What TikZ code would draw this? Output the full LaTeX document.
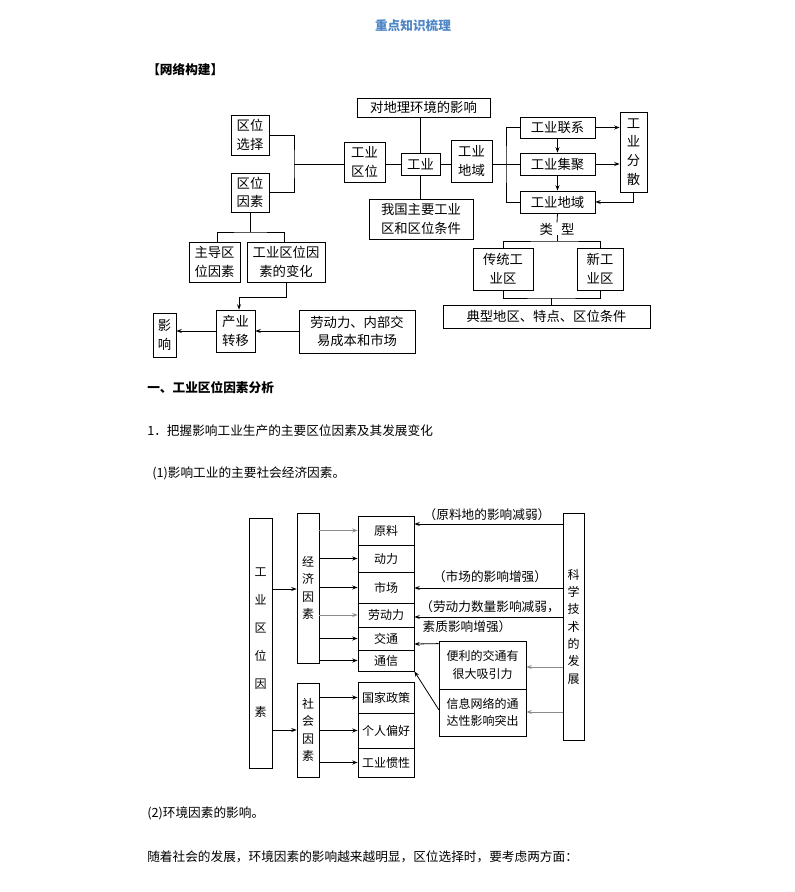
\documentclass[tikz,border=0pt]{standalone}
\usepackage{fontspec}
\setmainfont{Noto Sans CJK SC}
\usetikzlibrary{arrows.meta,calc}
\begin{document}
\begin{tikzpicture}[x=0.75pt,y=-0.75pt,
  box/.style={draw,line width=0.6pt,align=center,inner sep=0pt,font=\fontsize{10}{14}\selectfont},
  sbox/.style={box,font=\fontsize{9}{13}\selectfont},
  ln/.style={line width=0.6pt},
  arr/.style={line width=0.6pt,-{Stealth[length=4pt,width=3pt]}},
  garr/.style={line width=0.6pt,draw=black!45,-{Stealth[length=4pt,width=3pt]}},
  lab/.style={font=\fontsize{9.5}{12}\selectfont,inner sep=0pt},
  txt/.style={font=\fontsize{9.5}{12}\selectfont,inner sep=0pt,anchor=west}]
\newcommand\bx[7][box]{\node[#1,minimum width={(#5-#3)*0.75pt},minimum height={(#6-#4)*0.75pt}] (#2) at ({(#3+#5)/2},{(#4+#6)/2}) {#7};}
\useasboundingbox (0,0) rectangle (794,892);
% texts
\definecolor{ttl}{HTML}{4F86C6}
\node[font=\bfseries\fontsize{9.5}{12}\selectfont,text=ttl] (title) at (413,26) {重点知识梳理};
\node[txt,font=\bfseries\fontsize{9.5}{12}\selectfont] (t1) at (147,70) {【网络构建】};
\node[txt,font=\bfseries\fontsize{9.5}{12}\selectfont] (t2) at (147,388) {一、工业区位因素分析};
\node[txt] (t3) at (147,431) {1．把握影响工业生产的主要区位因素及其发展变化};
\node[txt] (t4) at (152,473) {(1)影响工业的主要社会经济因素。};
\node[txt] (t5) at (147,813) {(2)环境因素的影响。};
\node[txt] (t6) at (147,857) {随着社会的发展，环境因素的影响越来越明显，区位选择时，要考虑两方面：};
% top diagram
\bx{xz}{231}{115}{269}{155}{区位\\选择}
\bx{ys}{231}{173}{269}{212}{区位\\因素}
\bx{gyqw}{344}{142}{385}{182}{工业\\区位}
\bx{gy}{401}{153}{440}{175}{工业}
\bx{dl}{357}{98}{490}{117}{对地理环境的影响}
\bx{wg}{369}{199}{473}{239}{我国主要工业\\区和区位条件}
\bx{dy}{451}{140}{492}{182}{工业\\地域}
\bx{lx}{520}{117}{595}{138}{工业联系}
\bx{jj}{520}{153}{595}{175}{工业集聚}
\bx{dy2}{520}{191}{595}{213}{工业地域}
\bx{fs}{620}{112}{647}{192}{工\\业\\分\\散}
\node[lab,font=\fontsize{10}{12}\selectfont] (lx2) at (557,229) {类\hspace{0.6em}型};
\bx{ct}{473}{248}{533}{290}{传统工\\业区}
\bx{xg}{577}{248}{623}{290}{新工\\业区}
\bx{dx}{443}{305}{650}{328}{典型地区、特点、区位条件}
\bx{zd}{189}{242}{240}{282}{主导区\\位因素}
\bx{bh}{247}{242}{325}{282}{工业区位因\\素的变化}
\bx{zy}{216}{310}{255}{352}{产业\\转移}
\bx{ld}{299}{310}{415}{353}{劳动力、内部交\\易成本和市场}
\bx{yx}{153}{313}{176}{357}{影\\响}
\coordinate (j1) at (294,164);
\draw[ln] (xz.east) -| (j1) |- (ys.east);
\draw[ln] (j1) -- (gyqw.west |- j1);
\draw[ln] (gyqw.east |- gy.west) -- (gy.west);
\draw[ln] (gy.east) -- (dy.west |- gy.east);
\draw[ln] (dl.south -| gy.north) -- (gy.north);
\draw[ln] (gy.south) -- (wg.north -| gy.south);
\coordinate (j2) at (506,164);
\draw[ln] (dy.east |- j2) -- (j2);
\draw[ln] (lx.west) -| (j2) |- (dy2.west);
\draw[ln] (j2) -- (jj.west |- j2);
\draw[arr] (lx.south) -- (jj.north);
\draw[arr] (jj.south) -- (dy2.north);
\draw[arr] (lx.east) -- (fs.west |- lx.east);
\draw[arr] (jj.east) -- (fs.west |- jj.east);
\draw[arr] (fs.south) |- (dy2.east);
\draw[ln] (dy2.south) -- (lx2.north);
\coordinate (j3) at (557,241);
\draw[ln] (lx2.south) -- (j3);
\draw[ln] (ct.north) |- (j3) -| (xg.north);
\coordinate (j4) at (551,298);
\draw[ln] (ct.south) |- (j4) -| (xg.south);
\draw[ln] (j4) -- (dx.north -| j4);
\coordinate (j5) at (250,232);
\draw[ln] (ys.south -| j5) -- (j5);
\draw[ln] (zd.north -| 217,0) |- (j5) -| (bh.north -| 284,0);
\draw[arr] (bh.south -| 286,0) |- (239,297) -- (zy.north -| 239,0);
\draw[arr] (ld.west |- zy.east) -- (zy.east);
\draw[arr] (zy.west) -- (yx.east |- zy.west);
% lower diagram
\bx[sbox]{qw}{249}{518}{272}{768}{工\\[8pt]业\\[8pt]区\\[8pt]位\\[8pt]因\\[8pt]素}
\bx[sbox]{jx}{297}{513}{319}{663}{经\\济\\因\\素}
\bx[sbox]{sh}{297}{683}{319}{777}{社\\会\\因\\素}
\bx[sbox]{yl}{358}{516}{414}{545}{原料}
\bx[sbox]{dl2}{358}{545}{414}{572}{动力}
\bx[sbox]{sc}{358}{572}{414}{603}{市场}
\bx[sbox]{ldl}{358}{603}{414}{627}{劳动力}
\bx[sbox]{jt}{358}{627}{414}{650}{交通}
\bx[sbox]{tx}{358}{650}{414}{671}{通信}
\bx[sbox]{gj}{358}{682}{414}{713}{国家政策}
\bx[sbox]{gr}{358}{713}{414}{748}{个人偏好}
\bx[sbox]{gx}{358}{748}{414}{777}{工业惯性}
\bx[sbox]{kx}{563}{513}{584}{740}{科\\学\\技\\术\\的\\发\\展}
\bx[sbox]{bl}{439}{641}{526}{689}{便利的交通有\\很大吸引力}
\bx[sbox]{xx}{439}{689}{526}{736}{信息网络的通\\达性影响突出}
\draw[arr] (qw.east |- 0,589) -- (jx.west |- 0,589);
\draw[arr] (qw.east |- 0,730) -- (sh.west |- 0,730);
\foreach \n/\c in {yl/garr,dl2/arr,sc/arr,ldl/garr,jt/arr,tx/arr}
  \draw[\c] (jx.east |- \n.west) -- (\n.west);
\foreach \n in {gj,gr,gx}
  \draw[arr] (sh.east |- \n.west) -- (\n.west);
\draw[arr] (kx.west |- 0,524) -- (yl.east |- 0,524);
\draw[arr] (kx.west |- 0,588) -- (sc.east |- 0,588);
\draw[arr] (kx.west |- 0,617) -- (ldl.east |- 0,617);
\draw[arr] (bl.north west) ++(0,3) -- (jt.east |- 0,644);
\draw[arr] (439,710) -- (tx.south east);
\draw[garr] (kx.west |- 0,667) -- (bl.east |- 0,667);
\draw[garr] (kx.west |- 0,712) -- (xx.east |- 0,712);
\node[lab] (l1) at (487,515) {（原料地的影响减弱）};
\node[lab] (l2) at (490,577) {（市场的影响增强）};
\node[lab] (l3) at (490,607) {（劳动力数量影响减弱，};
\node[lab] (l4) at (467,627) {素质影响增强）};
\end{tikzpicture}
\end{document}
